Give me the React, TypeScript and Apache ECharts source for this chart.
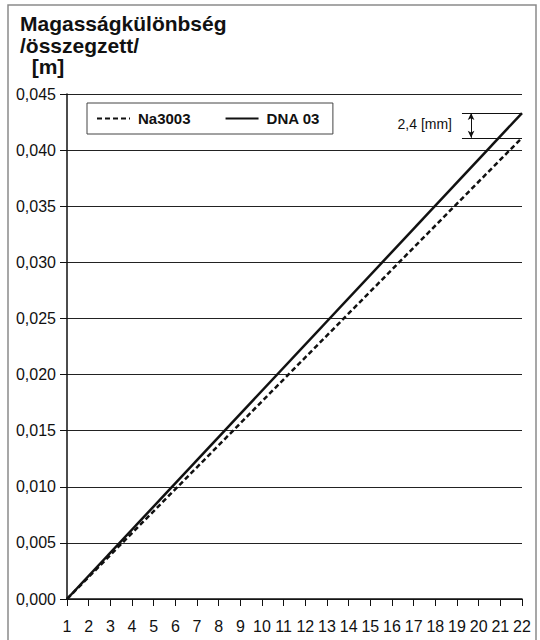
import React, { useEffect, useRef } from "react";
import * as echarts from "echarts";

const xPoints = [1, 22];
const na3003 = [0, 0.0411];
const dna03 = [0, 0.0433];
const seriesNames = ["Na3003", "DNA 03"];
const titleLines = ["Magasságkülönbség", "/összegzett/", "  [m]"];
const diffLabel = "2,4 [mm]";
const annotX = [19.23, 22];
const arrowX = 19.65;

const FONT = '"Liberation Sans", Arial, Helvetica, sans-serif';

export default function App() {
  const ref = useRef<HTMLDivElement>(null);
  useEffect(() => {
    if (!ref.current) return;
    const chart = echarts.init(ref.current, undefined, { renderer: "svg" });
    const naData = xPoints.map((x, i) => [x, na3003[i]]);
    const dnaData = xPoints.map((x, i) => [x, dna03[i]]);
    const topV = dna03[dna03.length - 1];
    const botV = na3003[na3003.length - 1];
    chart.setOption({
      animation: false,
      backgroundColor: "#fff",
      textStyle: { fontFamily: FONT },
      grid: { left: 67, right: 18, top: 94, bottom: 41, containLabel: false },
      legend: {
        left: 87,
        top: 103,
        orient: "horizontal",
        padding: [8, 13, 8, 9],
        itemWidth: 33,
        itemHeight: 14,
        itemGap: 34,
        borderColor: "#444",
        borderWidth: 1,
        backgroundColor: "#fff",
        itemStyle: { opacity: 0 },
        textStyle: { fontFamily: FONT, fontWeight: "bold", fontSize: 15, color: "#111", padding: [0, 0, 0, 3] },
        data: seriesNames,
      },
      xAxis: {
        type: "value",
        min: 1,
        max: 22,
        interval: 1,
        splitLine: { show: false },
        axisLine: { show: true, lineStyle: { color: "#111", width: 1.5 } },
        axisTick: { show: true, length: 7, lineStyle: { color: "#111", width: 1 } },
        axisLabel: { color: "#111", fontSize: 16, fontFamily: FONT, margin: 19 },
      },
      yAxis: {
        type: "value",
        min: 0,
        max: 0.045,
        interval: 0.005,
        splitLine: { show: true, lineStyle: { color: "#222", width: 1 } },
        axisLine: { show: true, lineStyle: { color: "#111", width: 1.5 } },
        axisTick: { show: true, length: 7, lineStyle: { color: "#111", width: 1 } },
        axisLabel: {
          color: "#111",
          fontSize: 16,
          fontFamily: FONT,
          margin: 11,
          formatter: (v: number) => v.toFixed(3).replace(".", ","),
        },
      },
      series: [
        {
          name: seriesNames[0],
          type: "line",
          data: naData,
          symbol: "none",
          lineStyle: { color: "#111", width: 2.5, type: [5, 3] },
          itemStyle: { color: "#111" },
        },
        {
          name: seriesNames[1],
          type: "line",
          data: dnaData,
          symbol: "none",
          lineStyle: { color: "#111", width: 2.5, type: "solid" },
          itemStyle: { color: "#111" },
          markLine: {
            silent: true,
            label: { show: false },
            lineStyle: { color: "#111", width: 1, type: "solid" },
            data: [
              [
                { coord: [annotX[0], topV], symbol: "none" },
                { coord: [annotX[1], topV], symbol: "none" },
              ],
              [
                { coord: [annotX[0], botV], symbol: "none" },
                { coord: [annotX[1], botV], symbol: "none" },
              ],
              [
                { coord: [arrowX, topV], symbol: "arrow", symbolSize: [5, 7] },
                { coord: [arrowX, botV], symbol: "arrow", symbolSize: [5, 7] },
              ],
            ],
          },
        },
      ],
      graphic: [
        {
          type: "rect",
          shape: { x: 8, y: 5, width: 528, height: 645 },
          style: { fill: "none", stroke: "#8a8a8a", lineWidth: 1.5 },
          silent: true,
          z: -1,
        },
        {
          type: "text",
          x: 20,
          y: 13,
          style: {
            text: titleLines.join("\n"),
            font: `bold 21px ${FONT}`,
            lineHeight: 21.5,
            fill: "#111",
            align: "left",
            verticalAlign: "top",
          },
        },
        {
          type: "text",
          x: 452,
          y: 124,
          style: { text: diffLabel, font: `14px ${FONT}`, fill: "#111", align: "right", verticalAlign: "middle" },
        },
      ],
    });
    return () => chart.dispose();
  }, []);
  return (
    <div
      ref={ref}
      style={{ position: "fixed", left: 0, top: 0, width: 540, height: 640, background: "#fff" }}
    />
  );
}
